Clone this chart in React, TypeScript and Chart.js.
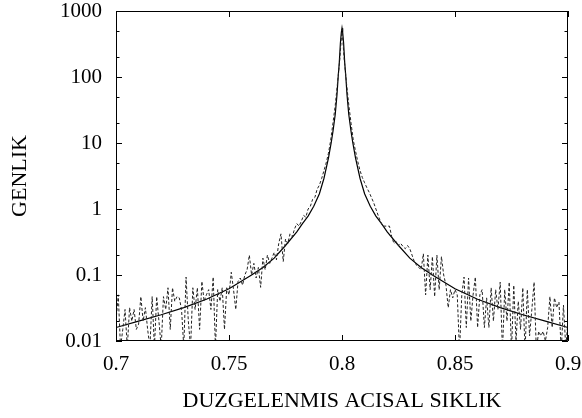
import React, { useEffect, useRef } from "react";
import { Chart, registerables } from "chart.js";

Chart.register(...registerables);

// Axis ticks
const xTicks = [0.7, 0.75, 0.8, 0.85, 0.9];
const xTickLabels = ["0.7", "0.75", "0.8", "0.85", "0.9"];
const yTicks = [0.01, 0.1, 1, 10, 100, 1000];
const yTickLabels = ["0.01", "0.1", "1", "10", "100", "1000"];
const yMinorTicks = [0.02, 0.05, 0.2, 0.5, 2, 5, 20, 50, 200, 500];

// Smooth (fitted) curve
const solidX = [
  0.7, 0.71, 0.72, 0.73, 0.74, 0.75, 0.76, 0.765, 0.77, 0.775, 0.78, 0.7825,
  0.785, 0.7875, 0.79, 0.792, 0.794, 0.7952, 0.796, 0.797, 0.7978, 0.7983,
  0.7988, 0.7993, 0.7997, 0.8, 0.8003, 0.8007, 0.8012, 0.8017, 0.8022, 0.803,
  0.804, 0.8048, 0.806, 0.808, 0.81, 0.8125, 0.815, 0.8175, 0.82, 0.825, 0.83,
  0.835, 0.84, 0.85, 0.86, 0.87, 0.88, 0.89, 0.9,
];
const solidY = [
  0.016, 0.02, 0.025, 0.032, 0.043, 0.062, 0.1, 0.13, 0.18, 0.28, 0.45, 0.6,
  0.78, 1.1, 1.7, 2.9, 5.9, 10, 15, 27, 55, 100, 165, 330, 470, 550, 470, 330,
  165, 100, 55, 27, 15, 10, 5.9, 2.9, 1.7, 1.1, 0.78, 0.6, 0.45, 0.28, 0.18,
  0.13, 0.1, 0.062, 0.043, 0.032, 0.025, 0.02, 0.016,
];

// Noisy measured spectrum, sampled from 0.700 every 0.001
const dashedStart = 0.7;
const dashedStep = 0.001;
const dashedY = [
  0.02, 0.05, 0.008, 0.015, 0.03, 0.008, 0.032, 0.02, 0.03, 0.015,
  0.018, 0.047, 0.02, 0.032, 0.015, 0.008, 0.047, 0.008, 0.047, 0.02,
  0.008, 0.047, 0.03, 0.064, 0.015, 0.064, 0.04, 0.047, 0.045, 0.03,
  0.008, 0.093, 0.02, 0.008, 0.064, 0.03, 0.064, 0.015, 0.08, 0.04,
  0.05, 0.06, 0.03, 0.093, 0.008, 0.06, 0.04, 0.064, 0.015, 0.064,
  0.05, 0.11, 0.06, 0.03, 0.08, 0.09, 0.07, 0.1, 0.12, 0.2,
  0.1, 0.15, 0.09, 0.13, 0.065, 0.18, 0.12, 0.2, 0.15, 0.18,
  0.22, 0.17, 0.3, 0.42, 0.16, 0.35, 0.3, 0.42, 0.38, 0.5,
  0.6, 0.55, 0.65, 0.8, 0.75, 1.0, 1.1, 1.4, 1.5, 2.0,
  2.3, 2.9, 3.8, 5.0, 7.0, 11, 20, 37, 80, 180,
  530, 180, 80, 38, 20, 11, 7.5, 5.2, 3.8, 3.0,
  2.5, 2.1, 1.8, 1.5, 1.25, 1.0, 0.8, 0.65, 0.55, 0.55,
  0.55, 0.55, 0.38, 0.3, 0.32, 0.28, 0.3, 0.27, 0.25, 0.28,
  0.25, 0.2, 0.16, 0.14, 0.13, 0.12, 0.21, 0.05, 0.2, 0.06,
  0.19, 0.047, 0.2, 0.06, 0.19, 0.1, 0.07, 0.032, 0.06, 0.045,
  0.06, 0.05, 0.007, 0.05, 0.093, 0.016, 0.09, 0.02, 0.05, 0.093,
  0.016, 0.05, 0.06, 0.016, 0.045, 0.016, 0.064, 0.02, 0.06, 0.03,
  0.078, 0.007, 0.06, 0.02, 0.078, 0.007, 0.07, 0.01, 0.04, 0.015,
  0.064, 0.007, 0.06, 0.012, 0.03, 0.078, 0.007, 0.014, 0.012, 0.014,
  0.01, 0.016, 0.047, 0.016, 0.045, 0.032, 0.039, 0.007, 0.035, 0.008,
  0.02,
];

const xTitle = "DUZGELENMIS ACISAL SIKLIK";
const yTitle = "GENLIK";

const FONT_FAMILY = "'Liberation Serif', 'Times New Roman', serif";

const framePlugin = {
  id: "frameTicks",
  afterDatasetsDraw(chart: any) {
    const { ctx, chartArea, scales } = chart;
    const { left, right, top, bottom } = chartArea;
    const xs = scales.x;
    const ys = scales.y;
    ctx.save();
    ctx.strokeStyle = "#000";
    ctx.lineWidth = 1;
    ctx.setLineDash([]);
    ctx.beginPath();
    ctx.rect(left + 0.5, top + 0.5, right - left - 1, bottom - top - 1);
    const major = 6;
    const minor = 3.5;
    xTicks.forEach((v) => {
      const px = Math.round(xs.getPixelForValue(v)) + 0.5;
      ctx.moveTo(px, bottom);
      ctx.lineTo(px, bottom - major);
      ctx.moveTo(px, top);
      ctx.lineTo(px, top + major);
    });
    yTicks.forEach((v) => {
      const py = Math.round(ys.getPixelForValue(v)) + 0.5;
      ctx.moveTo(left, py);
      ctx.lineTo(left + major, py);
      ctx.moveTo(right, py);
      ctx.lineTo(right - major, py);
    });
    yMinorTicks.forEach((v) => {
      const py = Math.round(ys.getPixelForValue(v)) + 0.5;
      ctx.moveTo(left, py);
      ctx.lineTo(left + minor, py);
      ctx.moveTo(right, py);
      ctx.lineTo(right - minor, py);
    });
    ctx.stroke();
    ctx.restore();
  },
};

export default function App() {
  const canvasRef = useRef<HTMLCanvasElement | null>(null);

  useEffect(() => {
    const canvas = canvasRef.current;
    if (!canvas) return;
    const solidData = solidX.map((x, i) => ({ x, y: solidY[i] }));
    const dashedData = dashedY.map((y, i) => ({
      x: dashedStart + i * dashedStep,
      y,
    }));
    const chart = new Chart(canvas, {
      type: "line",
      data: {
        datasets: [
          {
            label: "dashed",
            data: dashedData,
            borderColor: "#222",
            borderWidth: 1,
            borderDash: [3, 2],
            pointRadius: 0,
            tension: 0,
            fill: false,
          },
          {
            label: "solid",
            data: solidData,
            borderColor: "#000",
            borderWidth: 1.2,
            pointRadius: 0,
            tension: 0,
            fill: false,
          },
        ],
      },
      options: {
        responsive: false,
        animation: false,
        events: [],
        layout: { padding: { top: 11, right: 14, left: 0, bottom: 0 } },
        plugins: {
          legend: { display: false },
          tooltip: { enabled: false },
        },
        scales: {
          x: {
            type: "linear",
            min: 0.7,
            max: 0.9,
            grid: { display: false, drawTicks: false },
            border: { display: false },
            afterBuildTicks: (scale: any) => {
              scale.ticks = xTicks.map((v) => ({ value: v }));
            },
            afterFit: (scale: any) => {
              scale.height = 77;
              scale.paddingLeft = 0;
              scale.paddingRight = 0;
            },
            ticks: {
              autoSkip: false,
              maxRotation: 0,
              padding: 11,
              color: "#000",
              font: { family: FONT_FAMILY, size: 21 },
              callback: (_v: any, i: number) => xTickLabels[i],
            },
            title: {
              display: true,
              text: xTitle,
              color: "#000",
              font: { family: FONT_FAMILY, size: 22 },
              padding: { top: 0, bottom: 4 },
            },
          },
          y: {
            type: "logarithmic",
            min: 0.01,
            max: 1000,
            grid: { display: false, drawTicks: false },
            border: { display: false },
            afterBuildTicks: (scale: any) => {
              scale.ticks = yTicks.map((v) => ({ value: v }));
            },
            afterFit: (scale: any) => {
              scale.width = 116;
              scale.paddingTop = 0;
              scale.paddingBottom = 0;
            },
            ticks: {
              autoSkip: false,
              padding: 14,
              color: "#000",
              font: { family: FONT_FAMILY, size: 21 },
              callback: (_v: any, i: number) => yTickLabels[i],
            },
            title: {
              display: true,
              text: yTitle,
              color: "#000",
              font: { family: FONT_FAMILY, size: 22 },
              padding: { top: 7, bottom: 0 },
            },
          },
        },
      },
      plugins: [framePlugin],
    });
    return () => chart.destroy();
  }, []);

  return (
    <div
      style={{
        position: "absolute",
        left: 0,
        top: 0,
        width: 582,
        height: 418,
        background: "#fff",
      }}
    >
      <canvas
        ref={canvasRef}
        width={582}
        height={418}
        style={{ display: "block", width: 582, height: 418 }}
      />
    </div>
  );
}
